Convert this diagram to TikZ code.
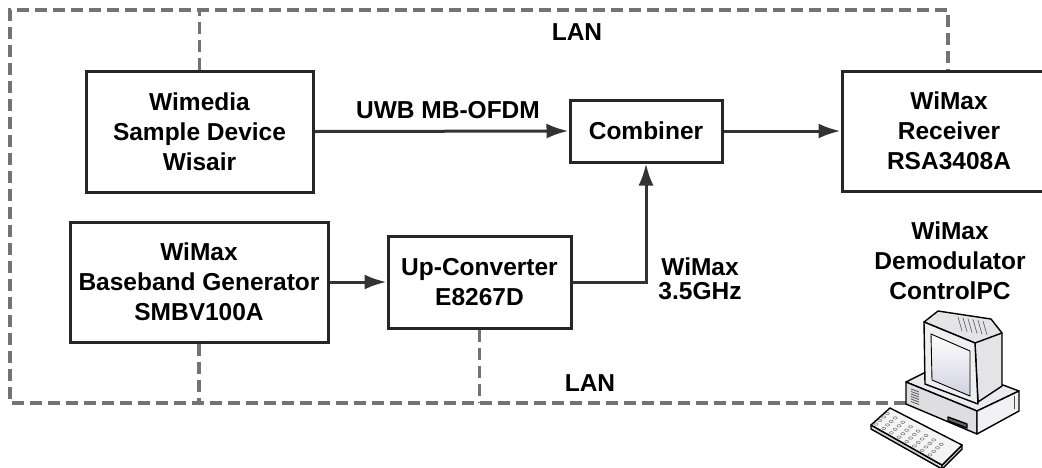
\documentclass[tikz,border=0pt]{standalone}
\usepackage{fontspec}
\setmainfont{Liberation Sans}
\usetikzlibrary{arrows.meta,calc}
\begin{document}
\begin{tikzpicture}[x=1pt,y=-1pt,
  box/.style={draw=black!85, line width=3pt, fill=white, align=center, inner sep=0pt,
     font=\fontsize{24.5}{30}\selectfont\bfseries},
  lbl/.style={align=center, inner sep=0pt, font=\fontsize{24.5}{30}\selectfont\bfseries},
  sig/.style={draw=black!80, line width=3pt, -{Latex[length=22pt,width=15pt]}},
  lan/.style={draw=black!55, line width=3.2pt, dash pattern=on 12pt off 6pt},
  pcline/.style={draw=black, line width=1.4pt, line join=round},
]
\clip (0,0) rectangle (1042,467);
\useasboundingbox (0,0) rectangle (1042,467);
\fill[white] (0,0) rectangle (1042,467);

% boxes
\node[box, minimum width=227pt, minimum height=121pt] (wim) at (199.5,131.5) {Wimedia\\Sample Device\\Wisair};
\node[box, minimum width=152pt, minimum height=62pt] (comb) at (646,131) {Combiner};
\node[box, minimum width=214pt, minimum height=120pt] (rec) at (949,131) {WiMax\\Receiver\\RSA3408A};
\node[box, minimum width=258pt, minimum height=120pt] (bb) at (199,282) {WiMax\\Baseband Generator\\SMBV100A};
\node[box, minimum width=183pt, minimum height=92pt] (up) at (479.5,282) {Up-Converter\\E8267D};

% labels
\node[lbl] (lantop) at (577,32) {LAN};
\node[lbl] (lanbot) at (590,383) {LAN};
\node[lbl] (uwb) at (448,110) {UWB MB-OFDM};
\node[lbl, font=\fontsize{24.5}{24}\selectfont\bfseries] (wmx) at (700,279) {WiMax\\3.5GHz};
\node[lbl] (demod) at (950,261) {WiMax\\Demodulator\\ControlPC};

% corners of the LAN loop
\coordinate (pc) at (906,403);
\coordinate (tr) at (948,10);
\coordinate (tl) at (10,10);
\coordinate (bl) at (10,403);

% LAN dashed lines
\draw[lan] (pc) -- (bl) -- (tl) -- (tr) -- (rec.north -| tr);
\draw[lan] (wim.north) -- (wim.north |- tl);
\draw[lan] (bb.south) -- (bb.south |- bl);
\draw[lan] (up.south) -- (up.south |- bl);

% signal arrows
\draw[sig] (wim.east) -- (comb.west);
\draw[sig] (comb.east) -- (comb.east -| rec.west);
\draw[sig] (bb.east) -- (up.west);
\draw[sig] (up.east) -| (comb.south);

% computer icon
% base
\filldraw[pcline, fill=blue!6!gray!15] (906,382) -- (944,363) -- (1019,391) -- (977,411) -- cycle;
\filldraw[pcline, fill=blue!5!gray!25] (906,382) -- (977,411) -- (977,434) -- (906,404) -- cycle;
\filldraw[pcline, fill=blue!8!gray!10] (977,411) -- (1019,391) -- (1019,411) -- (977,434) -- cycle;
\foreach \i in {0,...,5} \draw[black!70, line width=0.7pt] (911,389+\i*2.5) -- (919,392+\i*2.5);
\draw[pcline, fill=black!60] (948,417) -- (967,424) -- (967,428) -- (948,421) -- cycle;
\draw[black!70, line width=0.7pt] (1014,396) -- (1014,409);
% monitor back
\filldraw[pcline, fill=blue!6!gray!20] (924,322) -- (938,311) -- (991,319) -- (1002,333) -- (1002,386) -- (978,402) -- (975,343) -- cycle;
\foreach \i in {0,...,5} \draw[black!60, line width=0.7pt] (958+\i*5,317+\i*0.8) -- (962+\i*5,331+\i*0.8);
\draw[pcline] (975,343) -- (1002,333);
% monitor front
\filldraw[pcline, fill=blue!5!gray!12] (924,322) -- (975,343) -- (978,404) -- (925,384) -- cycle;
\shade[top color=white, bottom color=blue!20!gray!30, draw=black, line width=0.9pt]
   (931,334) -- (970,351) -- (970,396) -- (932,380) -- cycle;
% keyboard
\filldraw[pcline, fill=blue!20!gray!30] (871,425) -- (942,465) -- (942,469) -- (871,429) -- cycle;
\filldraw[pcline, fill=blue!20!gray!30] (942,465) -- (962,445) -- (962,449) -- (942,469) -- cycle;
\filldraw[pcline, fill=blue!4!gray!8] (871,425) -- (890,408) -- (962,445) -- (942,465) -- cycle;
\foreach \r in {0,...,3} \foreach \c in {0,...,7}
  \draw[black!55, line width=0.5pt] ($(876,424)+(\c*7.7,\c*4.4)+(\r*3.8,-\r*3.5)$) ellipse (2pt and 1.2pt);
\end{tikzpicture}
\end{document}
